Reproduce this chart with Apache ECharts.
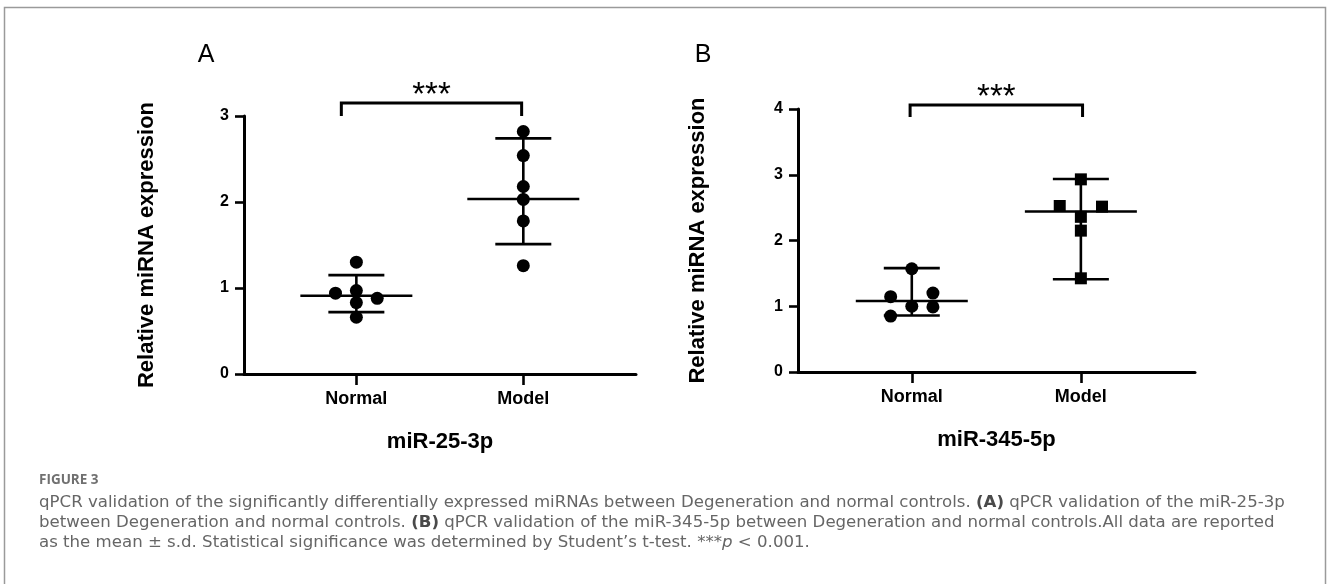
<!DOCTYPE html>
<html><head><meta charset="utf-8">
<script src="https://cdn.jsdelivr.net/npm/echarts@6/dist/echarts.min.js"></script>
<style>html,body{margin:0;padding:0;background:#fff}#c{width:1328px;height:584px}</style>
</head><body><div id="c"></div>
<script>
// ---------- data ----------
const categories = ['Normal', 'Model'];
const panelLetters = ['A', 'B'];
const panelTitles = ['miR-25-3p', 'miR-345-5p'];
const yAxisName = 'Relative miRNA expression';
const yMaxA = 3;
const yMaxB = 4;
const sigLabels = ['***', '***'];

// Panel A (miR-25-3p)
const normalA = [1.30, 0.94, 0.97, 0.88, 0.83, 0.66];
const normalAColumn = [0, -1, 0, 1, 0, 0];
const modelA = [2.82, 2.54, 2.18, 2.03, 1.78, 1.26];
const modelAColumn = [0, 0, 0, 0, 0, 0];
const centerA = [0.91, 2.035];
const upperA = [1.15, 2.74];
const lowerA = [0.72, 1.51];

// Panel B (miR-345-5p)
const normalB = [1.57, 1.145, 1.00, 1.20, 0.99, 0.85];
const normalBColumn = [0, -1, 0, 1, 1, -1];
const modelB = [2.93, 2.525, 2.515, 2.36, 2.15, 1.425];
const modelBColumn = [0, -1, 1, 0, 0, 0];
const centerB = [1.08, 2.44];
const upperB = [1.58, 2.935];
const lowerB = [0.86, 1.41];

const captionHead = 'FIGURE 3';
const captionLines = [
  'qPCR validation of the significantly differentially expressed miRNAs between Degeneration and normal controls. {b|(A)} qPCR validation of the miR-25-3p',
  'between Degeneration and normal controls. {b|(B)} qPCR validation of the miR-345-5p between Degeneration and normal controls.All data are reported',
  'as the mean ± s.d. Statistical significance was determined by Student\u2019s t-test. ***{i|p} < 0.001.'
];

// ---------- layout / style ----------
const FONT = '"Liberation Sans", Arial, sans-serif';
const CAP_FONT = '"DejaVu Sans", "Noto Sans", sans-serif';
const HEAD_FONT = '"Open Sans", "Noto Sans", sans-serif';
const CAP_SIZE = 16.6;
const JITTER = 0.125;
const X_MIN = 0.327, X_MAX = 2.675;

function scatterData(vals, cols, cat) {
  return vals.map((v, i) => [cat + cols[i] * JITTER, v]);
}

function errorSeries(idx, center, upper, lower) {
  return {
    type: 'custom', xAxisIndex: idx, yAxisIndex: idx, clip: false, z: 2,
    data: categories.map((c, i) => [i + 1, center[i], upper[i], lower[i]]),
    encode: { x: 0, y: [1, 2, 3] },
    renderItem: function (params, api) {
      const x = api.value(0);
      const pc = api.coord([x, api.value(1)]);
      const pu = api.coord([x, api.value(2)]);
      const pl = api.coord([x, api.value(3)]);
      const st = { stroke: '#000', lineWidth: 2.6 };
      return { type: 'group', children: [
        { type: 'line', shape: { x1: pc[0] - 56, y1: pc[1], x2: pc[0] + 56, y2: pc[1] }, style: st },
        { type: 'line', shape: { x1: pc[0], y1: pu[1], x2: pc[0], y2: pl[1] }, style: st },
        { type: 'line', shape: { x1: pc[0] - 28, y1: pu[1], x2: pc[0] + 28, y2: pu[1] }, style: st },
        { type: 'line', shape: { x1: pc[0] - 28, y1: pl[1], x2: pc[0] + 28, y2: pl[1] }, style: st }
      ]};
    }
  };
}

function bracketSeries(idx, x1, x2, yb, yt, label) {
  return {
    type: 'custom', xAxisIndex: idx, yAxisIndex: idx, clip: false, z: 3,
    data: [[x1, x2, yb, yt]],
    encode: { x: [0, 1], y: [2, 3] },
    renderItem: function (params, api) {
      const a = api.coord([api.value(0), api.value(2)]);
      const b = api.coord([api.value(0), api.value(3)]);
      const c = api.coord([api.value(1), api.value(3)]);
      const d = api.coord([api.value(1), api.value(2)]);
      return { type: 'group', children: [
        { type: 'polyline', shape: { points: [a, b, c, d] },
          style: { stroke: '#000', lineWidth: 3, fill: null } },
        { type: 'text', x: (b[0] + c[0]) / 2, y: b[1] - 7,
          style: { text: label, fontSize: 33, fontFamily: FONT, fill: '#000',
                   align: 'center', verticalAlign: 'middle' } }
      ]};
    }
  };
}

function scatterSeries(idx, data, symbol, size) {
  return {
    type: 'scatter', xAxisIndex: idx, yAxisIndex: idx, z: 4,
    symbol: symbol, symbolSize: size, data: data,
    itemStyle: { color: '#000', opacity: 1 }, silent: true
  };
}

function xAxisCfg(idx, title) {
  return {
    type: 'value', gridIndex: idx, min: X_MIN, max: X_MAX,
    axisLine: { show: true, onZero: false, lineStyle: { color: '#000', width: 3 } },
    axisTick: { show: true, customValues: [1, 2], length: 11, lineStyle: { color: '#000', width: 2.6 } },
    axisLabel: { customValues: [1, 2], formatter: v => categories[Math.round(v) - 1] || '',
      margin: 16, fontSize: 18, fontWeight: 'bold', color: '#000', fontFamily: FONT },
    splitLine: { show: false },
    name: title, nameLocation: 'middle', nameGap: 57,
    nameTextStyle: { fontSize: 22, fontWeight: 'bold', color: '#000', fontFamily: FONT }
  };
}

function yAxisCfg(idx, max, gap) {
  return {
    type: 'value', gridIndex: idx, min: 0, max: max, interval: 1,
    axisLine: { show: true, onZero: false, lineStyle: { color: '#000', width: 3 } },
    axisTick: { show: true, length: 9, lineStyle: { color: '#000', width: 2.6 } },
    axisLabel: { margin: 15, fontSize: 16, fontWeight: 'bold', color: '#000', fontFamily: FONT },
    splitLine: { show: false },
    name: yAxisName, nameLocation: 'middle', nameGap: gap,
    nameTextStyle: { fontSize: 22, fontWeight: 'bold', color: '#000', fontFamily: FONT }
  };
}

const chart = echarts.init(document.getElementById('c'), null, { renderer: 'canvas' });

const captionGraphics = captionLines.map((t, i) => ({
  type: 'text', x: 39, y: 503 + i * 20, silent: true,
  style: {
    text: t, fontSize: CAP_SIZE, fontFamily: CAP_FONT, fill: '#666',
    align: 'left', verticalAlign: 'middle',
    rich: {
      b: { fontSize: CAP_SIZE, fontFamily: CAP_FONT, fontWeight: 'bold', fill: '#4a4a4a' },
      i: { fontSize: CAP_SIZE, fontFamily: CAP_FONT, fontStyle: 'italic', fill: '#666' }
    }
  }
}));

chart.setOption({
  animation: false,
  backgroundColor: '#fff',
  grid: [
    { left: 244, top: 116, width: 392, height: 258, containLabel: false, outerBoundsMode: 'none' },
    { left: 798, top: 109, width: 397, height: 263, containLabel: false, outerBoundsMode: 'none' }
  ],
  xAxis: [xAxisCfg(0, panelTitles[0]), xAxisCfg(1, panelTitles[1])],
  yAxis: [yAxisCfg(0, yMaxA, 86), yAxisCfg(1, yMaxB, 89)],
  series: [
    errorSeries(0, centerA, upperA, lowerA),
    scatterSeries(0, scatterData(normalA, normalAColumn, 1), 'circle', 13),
    scatterSeries(0, scatterData(modelA, modelAColumn, 2), 'circle', 13),
    bracketSeries(0, 0.91, 1.99, 3.0, 3.15, sigLabels[0]),
    errorSeries(1, centerB, upperB, lowerB),
    scatterSeries(1, scatterData(normalB, normalBColumn, 1), 'circle', 13),
    scatterSeries(1, scatterData(modelB, modelBColumn, 2), 'rect', 12),
    bracketSeries(1, 0.99, 2.01, 3.88, 4.06, sigLabels[1])
  ],
  graphic: [
    { type: 'rect', silent: true, shape: { x: 4.5, y: 7.5, width: 1321, height: 700 },
      style: { fill: 'none', stroke: '#9a9a9a', lineWidth: 1.5 } },
    { type: 'text', x: 206, y: 55, silent: true,
      style: { text: panelLetters[0], fontSize: 25, fontFamily: FONT, fill: '#000', align: 'center', verticalAlign: 'middle' } },
    { type: 'text', x: 703, y: 55, silent: true,
      style: { text: panelLetters[1], fontSize: 25, fontFamily: FONT, fill: '#000', align: 'center', verticalAlign: 'middle' } },
    { type: 'text', x: 39, y: 480, silent: true,
      style: { text: captionHead, fontSize: 13.5, fontWeight: 'bold', fontFamily: HEAD_FONT, fill: '#707070', align: 'left', verticalAlign: 'middle' } }
  ].concat(captionGraphics)
});
</script></body></html>
